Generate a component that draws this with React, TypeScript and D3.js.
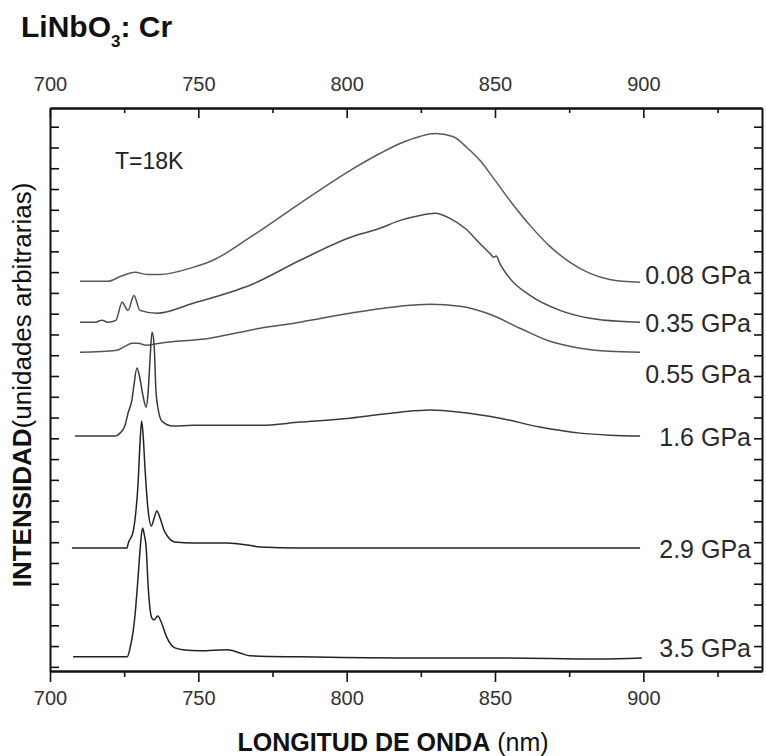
import React, { useEffect, useRef } from 'react';
import * as d3 from 'd3';

type Pt = [number, number];

// pressure labels, top to bottom
const pressures = ['0.08 GPa', '0.35 GPa', '0.55 GPa', '1.6 GPa', '2.9 GPa', '3.5 GPa'];

// spectra: [wavelength nm, intensity (arb. units, offset)]
const spec008: Pt[] = [
  [710.1, 18.56], [719.5, 18.56], [723.9, 18.8], [728.6, 18.99], [732.7, 18.89], [737.1, 18.89],
  [748.2, 19.23], [754.9, 19.57], [767.4, 20.67], [784.3, 22.31], [801.1, 23.89], [811.2, 24.71],
  [818.0, 25.19], [824.7, 25.53], [829.8, 25.67], [835.8, 25.53], [840.5, 25.0], [844.9, 24.38],
  [849.3, 23.56], [855.0, 22.45], [861.8, 21.25], [868.5, 20.24], [875.3, 19.47], [882.0, 18.94],
  [888.7, 18.65], [898.9, 18.51],
];
const spec035: Pt[] = [
  [710.1, 16.59], [715.2, 16.59], [717.5, 16.68], [719.5, 16.59], [722.2, 16.68], [724.3, 17.55],
  [726.3, 17.16], [728.3, 17.88], [730.3, 17.16], [736.1, 17.02], [748.2, 17.5], [760.7, 18.03],
  [767.4, 18.37], [784.3, 19.57], [801.1, 20.67], [811.2, 21.11], [818.0, 21.49], [824.7, 21.73],
  [829.8, 21.83], [834.8, 21.59], [839.9, 21.11], [844.9, 20.38], [848.3, 19.9], [849.6, 19.72],
  [850.4, 19.78], [851.7, 19.4], [855.0, 18.7], [861.8, 17.88], [871.9, 17.16], [882.0, 16.78],
  [892.1, 16.63], [898.9, 16.59],
];
const spec055: Pt[] = [
  [710.1, 15.14], [722.6, 15.24], [725.3, 15.43], [727.6, 15.58], [729.7, 15.58], [732.4, 15.48],
  [737.1, 15.58], [753.9, 15.82], [770.8, 16.3], [784.3, 16.59], [801.1, 17.02], [818.0, 17.36],
  [828.1, 17.45], [838.2, 17.36], [848.3, 16.97], [858.4, 16.3], [868.5, 15.67], [878.6, 15.34],
  [888.7, 15.19], [898.9, 15.14],
];
const spec16: Pt[] = [
  [708.4, 11.11], [721.9, 11.11], [723.6, 11.25], [725.3, 11.63], [726.3, 12.21], [727.6, 12.84],
  [728.3, 13.56], [729.3, 14.38], [730.3, 13.89], [731.3, 13.08], [732.4, 12.5], [733.0, 13.08],
  [733.7, 14.76], [734.4, 16.11], [735.1, 15.48], [735.7, 13.32], [736.4, 12.45], [737.7, 11.83],
  [741.5, 11.59], [748.2, 11.63], [770.8, 11.63], [784.3, 11.78], [801.1, 11.97], [818.0, 12.26],
  [828.1, 12.36], [838.2, 12.26], [851.7, 11.97], [865.1, 11.54], [878.6, 11.25], [888.7, 11.15],
  [898.9, 11.11],
];
const spec29: Pt[] = [
  [707.4, 5.72], [726.0, 5.72], [726.3, 5.91], [728.0, 6.49], [729.0, 7.55], [729.7, 8.85],
  [730.3, 10.67], [730.9, 11.83], [731.5, 10.91], [732.0, 9.62], [733.0, 7.64], [734.2, 6.78],
  [735.1, 7.16], [736.0, 7.5], [737.1, 7.16], [738.4, 6.59], [739.8, 6.25], [742.1, 6.01],
  [748.2, 5.96], [759.7, 5.96], [766.4, 5.87], [770.8, 5.77], [784.3, 5.72], [818.0, 5.72],
  [851.7, 5.72], [898.9, 5.72],
];
const spec35: Pt[] = [
  [707.8, 0.48], [726.0, 0.48], [727.0, 0.91], [728.0, 1.68], [728.6, 2.4], [729.7, 4.33],
  [730.5, 5.87], [731.2, 6.68], [731.8, 6.35], [732.4, 5.77], [733.1, 3.85], [734.3, 2.36],
  [735.1, 2.26], [736.3, 2.45], [737.6, 2.12], [739.3, 1.44], [742.1, 0.91], [744.8, 0.82],
  [750.6, 0.77], [759.7, 0.82], [764.0, 0.67], [767.4, 0.53], [784.3, 0.48], [818.0, 0.43],
  [851.7, 0.43], [885.4, 0.38], [899.5, 0.43],
];

const spectra = [spec008, spec035, spec055, spec16, spec29, spec35];
const labelLevels = [18.85, 16.54, 14.09, 11.06, 5.67, 0.91];
const lineColors = ['#5a5a5a', '#4a4a4a', '#555', '#3a3a3a', '#222', '#222'];

const xMajor = [700, 750, 800, 850, 900];
const xMinor = [725, 775, 825, 875, 925];
const yTicks = d3.range(0, 27);

const FONT = '"Liberation Sans", Arial, Helvetica, sans-serif';

export default function App() {
  const ref = useRef<SVGGElement>(null);

  useEffect(() => {
    const g = d3.select(ref.current);
    g.selectAll('*').remove();

    const x = d3.scaleLinear().domain([700, 940]).range([50, 762]);
    const y = d3.scaleLinear().domain([-0.2, 26.9]).range([671, 108]);

    // axes
    const bottom = g.append('g').attr('transform', 'translate(0,671)');
    bottom.call(d3.axisBottom(x).tickValues(xMajor).tickSizeInner(11).tickSizeOuter(0)
      .tickPadding(9).tickFormat(d3.format('d')));
    bottom.append('g').call(d3.axisBottom(x).tickValues(xMinor).tickSizeInner(6).tickSizeOuter(0)
      .tickFormat(() => ''));

    const top = g.append('g').attr('transform', 'translate(0,108)');
    top.call(d3.axisTop(x).tickValues(xMajor).tickSizeInner(-10).tickSizeOuter(0)
      .tickPadding(17).tickFormat(d3.format('d')));
    top.append('g').call(d3.axisTop(x).tickValues(xMinor).tickSizeInner(-5).tickSizeOuter(0)
      .tickFormat(() => ''));

    g.append('g').attr('transform', 'translate(50,0)')
      .call(d3.axisLeft(y).tickValues(yTicks).tickSizeInner(-9).tickSizeOuter(0).tickFormat(() => ''));
    g.append('g').attr('transform', 'translate(762,0)')
      .call(d3.axisRight(y).tickValues(yTicks).tickSizeInner(-8).tickSizeOuter(0).tickFormat(() => ''));

    g.selectAll('.domain').attr('stroke', '#111').attr('stroke-width', 2);
    g.selectAll('.tick line').attr('stroke', '#111').attr('stroke-width', 1.6);
    g.selectAll('.tick text')
      .attr('font-family', FONT).attr('font-size', 20).attr('fill', '#333');

    // spectra
    const line = d3.line<Pt>().x(d => x(d[0])).y(d => y(d[1])).curve(d3.curveMonotoneX);
    g.append('g').selectAll('path').data(spectra).enter().append('path')
      .attr('d', d => line(d))
      .attr('fill', 'none')
      .attr('stroke', (_, i) => lineColors[i])
      .attr('stroke-width', 1.5);

    // pressure labels
    g.append('g').selectAll('text').data(pressures).enter().append('text')
      .attr('x', 751)
      .attr('y', (_, i) => y(labelLevels[i]))
      .attr('dy', '0.36em')
      .attr('text-anchor', 'end')
      .attr('font-family', FONT).attr('font-size', 25).attr('fill', '#2a2a2a')
      .text(d => d);

    g.append('text').attr('x', 115).attr('y', 169)
      .attr('font-family', FONT).attr('font-size', 23).attr('fill', '#222')
      .text('T=18K');
  }, []);

  return (
    <svg width={766} height={756}
      style={{ position: 'absolute', left: 0, top: 0, background: '#fff' }}>
      <g ref={ref} />
      <text x={21} y={37} fontFamily={FONT} fontSize={30} fontWeight="bold" fill="#111">
        LiNbO<tspan fontSize={17} dy={10}>3</tspan><tspan dy={-10}>: Cr</tspan>
      </text>
      <text x={393} y={751} textAnchor="middle" fontFamily={FONT} fontSize={25} fill="#111">
        <tspan fontWeight="bold">LONGITUD DE ONDA</tspan> (nm)
      </text>
      <text transform="translate(31,385) rotate(-90)" textAnchor="middle" fontFamily={FONT} fontSize={26} fill="#111">
        <tspan fontWeight="bold">INTENSIDAD</tspan>(unidades arbitrarias)
      </text>
    </svg>
  );
}
